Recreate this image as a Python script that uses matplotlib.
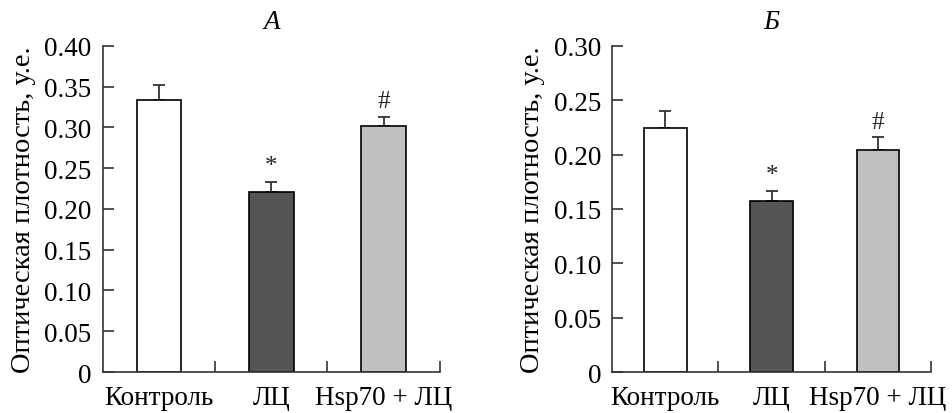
import matplotlib
matplotlib.use("Agg")
import matplotlib.pyplot as plt
from matplotlib.ticker import FixedLocator, FuncFormatter

plt.rcParams['font.family'] = ['Liberation Serif', 'DejaVu Serif']

categories = ["Контроль", "ЛЦ", "Hsp70 + ЛЦ"]
values_a = [0.333, 0.2205, 0.3015]
errors_a = [0.019, 0.013, 0.011]
values_b = [0.224, 0.157, 0.2042]
errors_b = [0.0157, 0.0095, 0.0116]
marks = ["", "*", "#"]
titles = ["А", "Б"]
yticks_a = [0, 0.05, 0.10, 0.15, 0.20, 0.25, 0.30, 0.35, 0.40]
yticks_b = [0, 0.05, 0.10, 0.15, 0.20, 0.25, 0.30]
ylabel = "Оптическая плотность, у.е."

colors = ["#ffffff", "#545557", "#bfc0c2"]
axcol = "#333333"

fig = plt.figure(figsize=(9.52, 4.14), dpi=100)
ax_a = fig.add_axes([0.108, 0.099, 0.354, 0.788])
ax_b = fig.add_axes([0.643, 0.099, 0.335, 0.788])

fmt = FuncFormatter(lambda v, p: "0" if abs(v) < 1e-9 else f"{v:.2f}")

for ax, vals, errs, yt, title in [(ax_a, values_a, errors_a, yticks_a, titles[0]),
                                   (ax_b, values_b, errors_b, yticks_b, titles[1])]:
    x = [i + 0.5 for i in range(len(categories))]
    ax.bar(x, vals, width=0.4, color=colors, edgecolor="black", linewidth=1.2, zorder=2)
    ax.errorbar(x, vals, yerr=[[0] * len(errs), errs], fmt="none", ecolor=axcol,
                elinewidth=1.3, capsize=4, capthick=1.3, zorder=1)
    for xi, v, e, m in zip(x, vals, errs, marks):
        if m:
            ax.annotate(m, (xi, v + e), xytext=(0, 7), textcoords="offset points",
                        ha="center", va="baseline", fontsize=18, color="#222222")
    ax.set_xlim(0, 3)
    ax.set_ylim(0, yt[-1])
    ax.yaxis.set_major_locator(FixedLocator(yt))
    ax.yaxis.set_major_formatter(fmt)
    ax.set_xticks(x)
    ax.set_xticklabels(categories)
    ax.xaxis.set_minor_locator(FixedLocator([1, 2, 3]))
    ax.tick_params(axis="x", which="major", length=0, pad=9, labelsize=19.5)
    ax.tick_params(axis="x", which="minor", direction="in", length=8, width=1.2, color=axcol)
    ax.tick_params(axis="y", direction="in", length=8, width=1.2, color=axcol, pad=8, labelsize=19.5)
    for s in ["top", "right"]:
        ax.spines[s].set_visible(False)
    for s in ["left", "bottom"]:
        ax.spines[s].set_color(axcol)
        ax.spines[s].set_linewidth(1.2)
    ax.set_ylabel(ylabel, fontsize=20.5, labelpad=6)
    ax.set_title(title, fontsize=19.5, style="italic", pad=13)

fig.savefig("out.png", dpi=100)
